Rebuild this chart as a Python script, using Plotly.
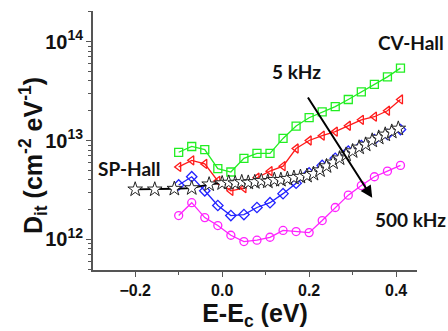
import plotly.graph_objects as go

# ---- data (E - Ec in eV, Dit in cm^-2 eV^-1) ----
cv_x = [-0.10, -0.07, -0.04, -0.01, 0.02, 0.05, 0.08, 0.11, 0.14, 0.17,
        0.20, 0.23, 0.26, 0.29, 0.32, 0.35, 0.38, 0.41]

green_y = [7.6e12, 8.7e12, 8.1e12, 5.2e12, 4.8e12, 6.6e12, 7.4e12, 7.4e12, 1.05e13, 1.4e13,
           1.7e13, 1.95e13, 2.2e13, 2.6e13, 3.1e13, 3.7e13, 4.4e13, 5.4e13]
red_y = [5.4e12, 6.3e12, 5.8e12, 3.9e12, 3.1e12, 3.3e12, 4.2e12, 4.9e12, 5.5e12, 8.3e12,
         1.0e13, 1.12e13, 1.23e13, 1.41e13, 1.62e13, 1.74e13, 2.0e13, 2.6e13]
blue_y = [3.55e12, 4.3e12, 3.1e12, 2.2e12, 1.74e12, 1.78e12, 2.1e12, 2.35e12, 2.9e12, 3.7e12,
          4.7e12, 5.6e12, 6.6e12, 7.8e12, 8.9e12, 1.02e13, 1.15e13, 1.29e13]
mag_y = [1.74e12, 2.35e12, 1.66e12, 1.38e12, 1.1e12, 0.95e12, 0.98e12, 1.05e12, 1.23e12, 1.2e12,
         1.17e12, 1.55e12, 2.1e12, 2.8e12, 3.5e12, 4.3e12, 4.9e12, 5.6e12]

sp_x = [-0.20, -0.155, -0.11, -0.07, -0.03, 0.0, 0.015, 0.03, 0.045, 0.06,
        0.075, 0.09, 0.105, 0.12, 0.135, 0.15, 0.165, 0.18, 0.195, 0.21,
        0.225, 0.24, 0.255, 0.27, 0.285, 0.30, 0.315, 0.33, 0.345, 0.36,
        0.375, 0.39, 0.405]
sp_y = [3.2e12, 3.2e12, 3.25e12, 3.3e12, 3.6e12, 3.7e12, 3.75e12, 3.7e12, 3.8e12, 3.75e12,
        3.8e12, 3.9e12, 3.85e12, 4.0e12, 4.0e12, 4.1e12, 4.2e12, 4.3e12, 4.4e12, 4.6e12,
        5.0e12, 5.5e12, 6.0e12, 6.6e12, 7.2e12, 7.8e12, 8.5e12, 9.1e12, 1.0e13, 1.07e13,
        1.15e13, 1.23e13, 1.32e13]

AX_FONT = "Liberation Sans"
ANN_FONT = "Lato"

fig = go.Figure()

series = [
    ("5 kHz", cv_x, green_y, "#22ee22", "square-open"),
    ("red", cv_x, red_y, "#ff1a1a", "triangle-left-open"),
    ("blue", cv_x, blue_y, "#2222ff", "diamond-open"),
    ("500 kHz", cv_x, mag_y, "#ff22ff", "circle-open"),
]
for name, xs, ys, col, sym in series:
    fig.add_trace(go.Scatter(
        x=xs, y=ys, mode="lines+markers", name=name,
        line=dict(color=col, width=1.3),
        marker=dict(symbol=sym, size=8, color=col, line=dict(width=1.3, color=col)),
        showlegend=False,
    ))

fig.add_trace(go.Scatter(
    x=sp_x, y=sp_y, mode="lines+markers", name="SP-Hall",
    line=dict(color="black", width=1.8),
    marker=dict(symbol="star", size=11, color="white", line=dict(width=1, color="#222")),
    showlegend=False,
))

ann_font = dict(family=ANN_FONT, size=19, color="#111", weight="bold")
fig.add_annotation(x=0.434, y=13.99, text="CV-Hall", showarrow=False, font=ann_font)
fig.add_annotation(x=0.172, y=13.70, text="5 kHz", showarrow=False, font=ann_font)
fig.add_annotation(x=-0.212, y=12.72, text="SP-Hall", showarrow=False, font=ann_font)
fig.add_annotation(x=0.432, y=12.20, text="500 kHz", showarrow=False, font=ann_font)

# frequency arrow
fig.add_annotation(x=0.345, y=12.42, ax=0.195, ay=13.45, xref="x", yref="y",
                   axref="x", ayref="y", text="", showarrow=True,
                   arrowhead=2, arrowsize=1.2, arrowwidth=2, arrowcolor="black")

# y-axis title placed as a rotated annotation (sits close to the tick labels as in the reference)
fig.add_annotation(x=-0.185, y=0.44, xref="paper", yref="paper",
                   xanchor="center", yanchor="middle", textangle=-90, showarrow=False,
                   text="D<sub>it</sub> (cm<sup>-2</sup> eV<sup>-1</sup>)",
                   font=dict(family=AX_FONT, size=25, weight="bold", color="#111"))

fig.update_layout(
    width=448, height=331,
    margin=dict(l=93, r=31, t=11, b=58),
    paper_bgcolor="white", plot_bgcolor="white",
    font=dict(family=AX_FONT, color="#111"),
    xaxis=dict(
        range=[-0.297, 0.448], dtick=0.2, tick0=0, tickformat=".1f",
        showgrid=False, zeroline=False,
        showline=True, linecolor="#555", linewidth=1.5,
        ticks="outside", ticklen=5, tickwidth=1.3, tickcolor="#555",
        minor=dict(dtick=0.1, tick0=0, ticks="outside", ticklen=3, tickcolor="#555", tickwidth=1.2),
        tickfont=dict(family=AX_FONT, size=16, weight="bold", color="#111"),
        title=dict(text="E-E<sub>c</sub> (eV)", standoff=4,
                   font=dict(family=AX_FONT, size=25, weight="bold", color="#111")),
    ),
    yaxis=dict(
        type="log", range=[11.69, 14.31], dtick=1, exponentformat="power",
        showgrid=False, zeroline=False,
        showline=True, linecolor="#555", linewidth=1.5,
        ticks="outside", ticklen=5, tickwidth=1.3, tickcolor="#555",
        minor=dict(dtick="D1", ticks="outside", ticklen=3, tickcolor="#555", tickwidth=1.2),
        tickfont=dict(family=AX_FONT, size=16, weight="bold", color="#111"),
    ),
)

fig.write_html("out.html")
